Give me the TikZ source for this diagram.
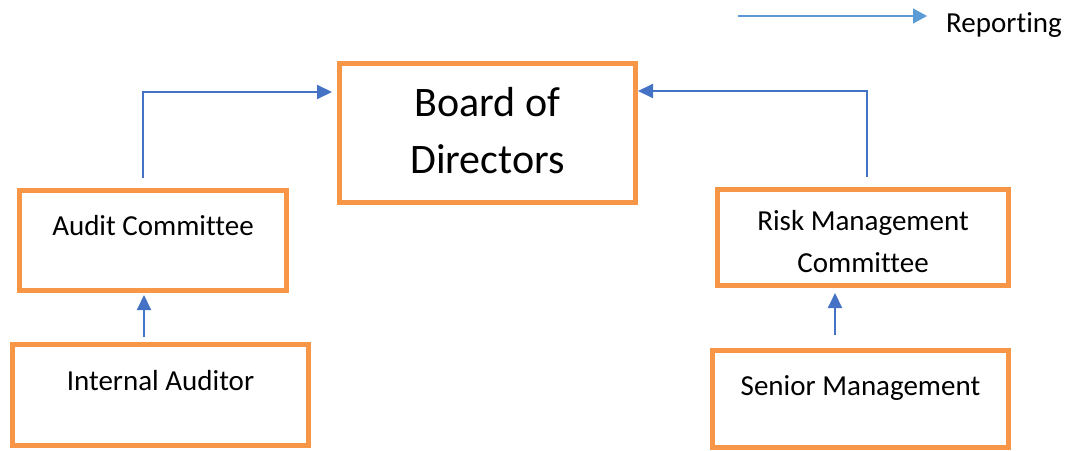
\documentclass[tikz,border=0pt]{standalone}
\usepackage{fontspec}
\setmainfont{Carlito}[Ligatures=NoCommon]
\usetikzlibrary{arrows.meta,positioning,calc}
\definecolor{rptorange}{RGB}{247,150,70}
\definecolor{rptblue}{RGB}{68,114,196}
\definecolor{rptlight}{RGB}{91,155,213}
\tikzset{
  obox/.style={rectangle, draw=rptorange, line width=5pt, inner sep=0pt, align=center,
               font=\fontsize{29}{42}\selectfont, text height=44.5pt, text depth=55.5pt},
  oarr/.style={-{Triangle[length=15pt,width=14pt]}, line width=2pt, rptblue},
}
\begin{document}
\begin{tikzpicture}[x=1pt,y=-1pt]
        \useasboundingbox (0,0) rectangle (1073,450);
        % board
        \node[obox,minimum width=296pt,font=\fontsize{42}{57}\selectfont,text height=109.5pt,text depth=29.5pt](board) at (487.5,133){Board of\\Directors};
        % committees
        \node[obox,minimum width=267pt](audit) at (153,240.5){Audit Committee};
        \node[obox,minimum width=291pt,text height=82.5pt,text depth=13.5pt](risk) at (863,237.5){Risk Management\\Committee};
        % bottom row
        \node[obox,minimum width=296pt,text height=45.5pt,below=49pt of audit,xshift=7.5pt](intaud){Internal Auditor};
        \node[obox,minimum width=296pt,text depth=52.5pt,below=60pt of risk,xshift=-2.5pt](senior){Senior Management};
        % reporting lines
        \draw[oarr]([xshift=-10pt,yshift=10pt]audit.north) |- ([xshift=-5pt,yshift=41pt]board.west);
        \draw[oarr]([xshift=4pt,yshift=10pt]risk.north) |- ([yshift=42pt]board.east);
        \draw[oarr]([xshift=-16.5pt,yshift=5pt]intaud.north) -- ([xshift=-9pt,yshift=-2pt]audit.south);
        \draw[oarr]([xshift=-25.5pt,yshift=13pt]senior.north) -- ([xshift=-28pt,yshift=-5pt]risk.south);
        % legend
        \coordinate (lgstart) at (738,16);
        \coordinate (lgend) at (927,16);
        \node[anchor=base west,inner sep=0pt,font=\fontsize{29}{35}\selectfont](lgtext) at (946,32){Reporting};
        \draw[-{Triangle[length=14pt,width=15pt]},line width=1.5pt,rptlight](lgstart)--(lgend);
    \end{tikzpicture}
\end{document}
